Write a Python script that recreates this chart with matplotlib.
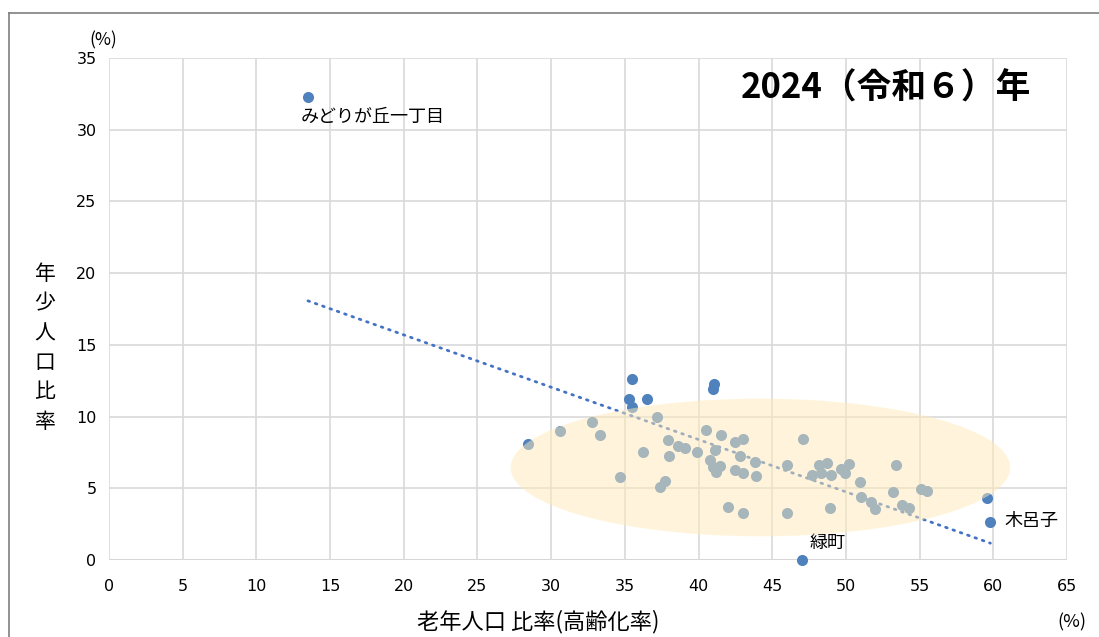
import numpy as np
import matplotlib
matplotlib.use('Agg')
import matplotlib.pyplot as plt
from matplotlib.patches import Ellipse
from matplotlib.lines import Line2D

plt.rcParams['font.family'] = ['Noto Sans CJK JP', 'DejaVu Sans']

# 高齢化率 (%) and 年少人口比率 (%) for each district
elderly = [13.5, 47.0, 59.8, 59.6, 35.5, 35.3, 36.5, 41.05, 41.0, 35.5,
           37.2, 32.8, 30.6, 33.3, 28.4, 36.2, 34.7, 37.7, 37.4, 37.9,
           38.6, 39.1, 38.0, 39.9, 40.5, 41.5, 42.5, 43.05, 41.1, 42.8,
           40.8, 41.0, 41.45, 41.2, 42.5, 43.0, 43.8, 43.9, 46.0, 42.0,
           43.0, 46.0, 47.1, 48.2, 48.7, 47.7, 48.3, 49.0, 49.65, 49.95,
           50.2, 53.4, 50.95, 51.05, 48.9, 51.7, 52.0, 53.2, 53.8, 54.3,
           55.1, 55.5]
youth = [32.3, 0.0, 2.65, 4.35, 12.6, 11.2, 11.25, 12.3, 11.95, 10.7,
         10.0, 9.65, 9.0, 8.75, 8.1, 7.5, 5.8, 5.5, 5.1, 8.4,
         7.95, 7.8, 7.25, 7.5, 9.05, 8.7, 8.2, 8.45, 7.7, 7.25,
         6.95, 6.5, 6.55, 6.15, 6.3, 6.1, 6.85, 5.85, 6.6, 3.7,
         3.25, 3.25, 8.45, 6.65, 6.75, 5.95, 6.05, 5.9, 6.35, 6.1,
         6.7, 6.6, 5.45, 4.4, 3.65, 4.05, 3.55, 4.75, 3.8, 3.65,
         4.95, 4.8]

label_names = ['みどりが丘一丁目', '緑町', '木呂子']
label_index = [0, 1, 2]

x_ticks = list(range(0, 70, 5))
y_ticks = list(range(0, 40, 5))

fig = plt.figure(figsize=(10.99, 6.37), dpi=100)
ax = fig.add_axes([109 / 1099, 1 - 560 / 637, 958 / 1099, 502 / 637])

ax.set_xlim(0, 65)
ax.set_ylim(0, 35)
ax.set_xticks(x_ticks)
ax.set_yticks(y_ticks)
ax.grid(True, color='#d9d9d9', linewidth=1.2, zorder=0)
for s in ax.spines.values():
    s.set_visible(False)
ax.axhline(0, color='#bfbfbf', linewidth=1.2, zorder=1)
ax.tick_params(length=0, labelsize=11.5, pad=14)
for t in ax.get_xticklabels() + ax.get_yticklabels():
    t.set_family('DejaVu Sans')
ax.tick_params(axis='y', pad=9)

# linear trendline (Excel style)
xs = np.array(elderly)
ys = np.array(youth)
k, b = np.polyfit(xs, ys, 1)
tx = np.array([xs.min(), xs.max()])
ax.plot(tx, k * tx + b, color='#4472C4', linewidth=2, linestyle=(0, (0.6, 2.2)),
        dash_capstyle='round', zorder=2)

ax.scatter(elderly, youth, s=64, color='#4F81BD', zorder=3, clip_on=False,
           linewidths=0)

# highlight ellipse
ell = Ellipse((44.2, 6.45), 33.9, 9.6, facecolor='#FFEBB8', alpha=0.5,
              edgecolor='none', zorder=4)
ax.add_patch(ell)

ax.annotate(label_names[0], (elderly[label_index[0]], youth[label_index[0]]),
            xytext=(-5, -8), textcoords='offset points', ha='left', va='top',
            fontsize=13)
ax.annotate(label_names[1], (elderly[label_index[1]], youth[label_index[1]]),
            xytext=(6, 6), textcoords='offset points', ha='left', va='bottom',
            fontsize=13)
ax.annotate(label_names[2], (elderly[label_index[2]], youth[label_index[2]]),
            xytext=(10, 1), textcoords='offset points', ha='left', va='center',
            fontsize=13)

fig.text(886 / 1099, 1 - 88 / 637, '2024（令和６）年', ha='center', va='center',
         fontsize=25, fontweight='bold')
fig.text(103 / 1099, 1 - 40 / 637, '(%)', ha='center', va='center', fontsize=12.5)
fig.text(1072 / 1099, 1 - 622 / 637, '(%)', ha='center', va='center', fontsize=13)
fig.text(538 / 1099, 1 - 622 / 637, '老年人口 比率(高齢化率)', ha='center',
         va='center', fontsize=16)
fig.text(45 / 1099, 1 - 348 / 637, '\n'.join('年少人口比率'), ha='center',
         va='center', fontsize=15, linespacing=1.44)

# chart frame
fig.add_artist(Line2D([9 / 1099, 9 / 1099], [0, 1 - 13 / 637], color='#7f7f7f',
                      linewidth=1.2))
fig.add_artist(Line2D([9 / 1099, 1], [1 - 13 / 637, 1 - 13 / 637], color='#7f7f7f',
                      linewidth=1.2))

fig.savefig('out.png', dpi=100)
